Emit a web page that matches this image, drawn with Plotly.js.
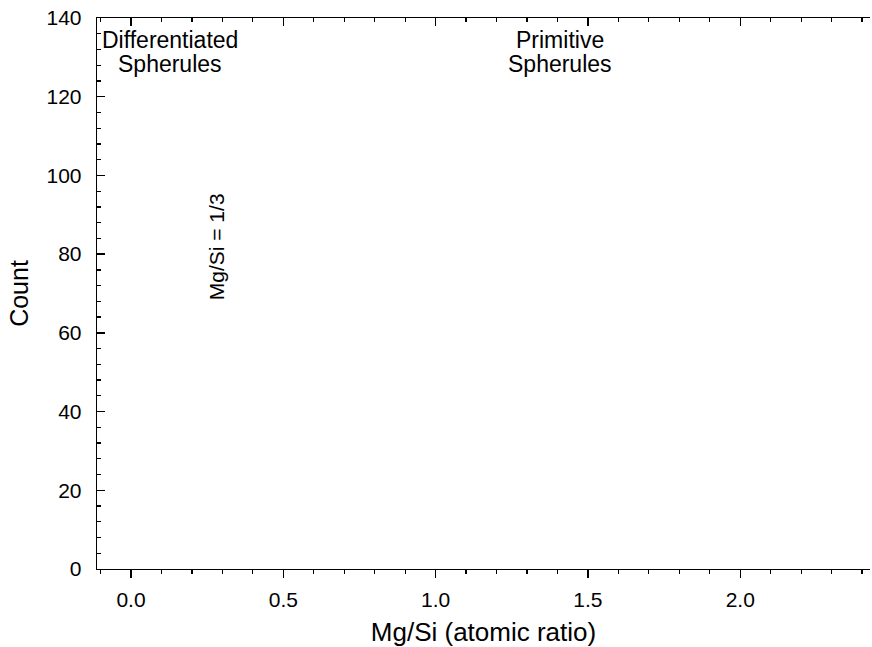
<!DOCTYPE html>
<html>
<head>
<meta charset="utf-8">
<script src="https://cdn.plot.ly/plotly-3.0.1.min.js"></script>
<style>html,body{margin:0;padding:0;background:#fff;}#chart{width:872px;height:647px;}</style>
</head>
<body>
<div id="chart"></div>
<script>
// Data: the histogram panel is empty (no bars drawn)
const mgSiBins = [];
const counts = [];

const xTickVals = [0, 0.5, 1.0, 1.5, 2.0];
const xTickText = ['0.0', '0.5', '1.0', '1.5', '2.0'];
const yTickVals = [0, 20, 40, 60, 80, 100, 120, 140];
const yTickText = ['0', '20', '40', '60', '80', '100', '120', '140'];

const labelTexts = ['Differentiated', 'Spherules', 'Primitive', 'Spherules', 'Mg/Si = 1/3'];
const labelX = [0.127, 0.127, 1.409, 1.409, 0.279];
const labelY = [134.4, 128.3, 134.4, 128.3, 82.0];
const labelAngle = [0, 0, 0, 0, -90];
const labelSize = [23, 23, 23, 23, 21];

const xRange = [-0.1116, 2.426];
const yRange = [0, 140];

const FONT = 'Liberation Sans, Arial, Helvetica, sans-serif';

const traces = [
  {type: 'bar', x: mgSiBins, y: counts, marker: {color: '#888', line: {color: '#000', width: 1}}, showlegend: false, hoverinfo: 'skip'},
  {type: 'scatter', x: [], y: [], xaxis: 'x2', yaxis: 'y', showlegend: false, hoverinfo: 'skip'}
];

const annotations = labelTexts.map((t, i) => ({
  text: t, x: labelX[i], y: labelY[i], xref: 'x', yref: 'y',
  showarrow: false, textangle: labelAngle[i], xanchor: 'center', yanchor: 'middle',
  font: {family: FONT, size: labelSize[i], color: '#000'}
}));

const layout = {
  width: 872, height: 647,
  margin: {l: 97, r: 2, t: 18, b: 78, pad: 0},
  paper_bgcolor: '#fff', plot_bgcolor: '#fff',
  font: {family: FONT, color: '#000'},
  showlegend: false,
  xaxis: {
    range: xRange, showgrid: false, zeroline: false,
    showline: true, linecolor: '#000', linewidth: 1.3, mirror: false,
    ticks: 'outside', ticklen: 8, tickwidth: 1.3, tickcolor: '#000',
    tickvals: xTickVals, ticktext: xTickText, ticklabelstandoff: 3,
    tickfont: {family: FONT, size: 21, color: '#000'},
    minor: {dtick: 0.1, tick0: 0, ticks: 'outside', ticklen: 4, tickwidth: 1.3, tickcolor: '#000', showgrid: false},
    title: {text: 'Mg/Si (atomic ratio)', font: {family: FONT, size: 26, color: '#000'}, standoff: 19}
  },
  xaxis2: {
    overlaying: 'x', side: 'top', anchor: 'y', range: xRange,
    showgrid: false, zeroline: false, showline: true, linecolor: '#000', linewidth: 1.3,
    ticks: 'inside', ticklen: 8, tickwidth: 1.3, tickcolor: '#000',
    tickvals: xTickVals, showticklabels: false,
    minor: {dtick: 0.1, tick0: 0, ticks: 'inside', ticklen: 4, tickwidth: 1.3, tickcolor: '#000', showgrid: false}
  },
  yaxis: {
    range: yRange, showgrid: false, zeroline: false,
    showline: true, linecolor: '#000', linewidth: 1.3, mirror: false,
    ticks: 'inside', ticklen: 8, tickwidth: 1.3, tickcolor: '#000',
    tickvals: yTickVals, ticktext: yTickText, ticklabelstandoff: 10,
    tickfont: {family: FONT, size: 21, color: '#000'},
    minor: {dtick: 4, tick0: 0, ticks: 'inside', ticklen: 4, tickwidth: 1.3, tickcolor: '#000', showgrid: false},
    title: {text: 'Count', font: {family: FONT, size: 25, color: '#000'}, standoff: 10}
  },
  annotations: annotations
};

Plotly.newPlot('chart', traces, layout, {staticPlot: true, displayModeBar: false});
</script>
</body>
</html>
